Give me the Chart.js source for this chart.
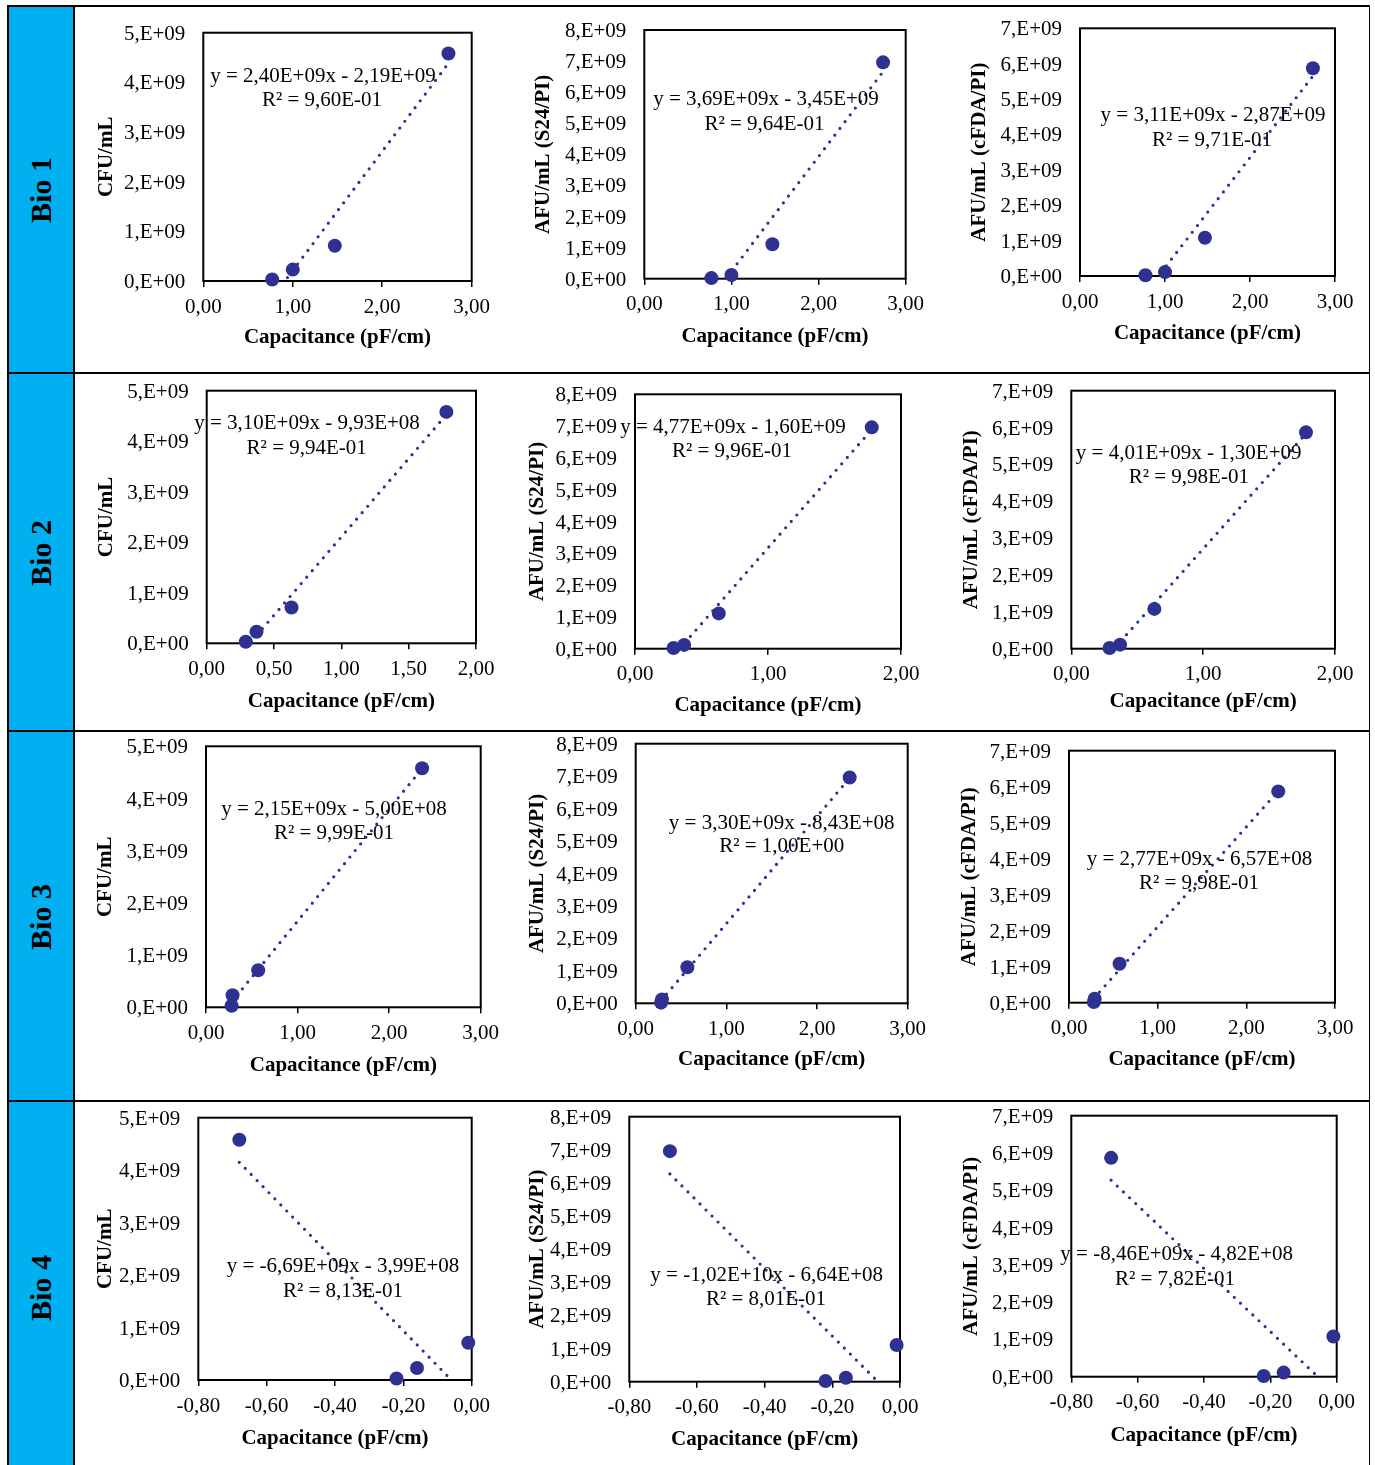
<!DOCTYPE html>
<html>
<head>
<meta charset="utf-8">
<script src="https://cdn.jsdelivr.net/npm/chart.js@4/dist/chart.umd.min.js"></script>
<style>
  html, body { margin: 0; padding: 0; background: #fff; }
  body { width: 1375px; height: 1465px; position: relative; overflow: hidden; }
  .cell-blue { position: absolute; background: #00B0F0; }
  .rule { position: absolute; background: #000; }
  .bio {
    position: absolute; font: bold 30px 'Liberation Serif', 'Times New Roman', serif;
    line-height: 1; white-space: nowrap; color: #000;
    transform: translate(-50%, -50%) rotate(-90deg);
  }
  .panel { position: absolute; }
  .panel canvas { display: block; }
</style>
</head>
<body>
<div id="sheet"></div>
<script>
// ---- data ----------------------------------------------------------------
const bioNames = ['Bio 1', 'Bio 2', 'Bio 3', 'Bio 4'];

// capacitance readings (pF/cm) for the four samples, per biomass probe
const capBio1 = [0.77, 1.00, 1.47, 2.74];
const capBio2 = [0.29, 0.37, 0.63, 1.78];
const capBio3 = [0.28, 0.29, 0.57, 2.36];
const capBio4 = [-0.22, -0.16, -0.01, -0.68];

// reference counts for the same four samples
const cfuPerMl = [0.03e9, 0.23e9, 0.71e9, 4.58e9];
const afuS24   = [0.02e9, 0.12e9, 1.11e9, 6.96e9];
const afuCfda  = [0.02e9, 0.11e9, 1.08e9, 5.87e9];

const yTitles = ['CFU/mL', 'AFU/mL (S24/PI)', 'AFU/mL (cFDA/PI)'];
const yMaxima = [5e9, 8e9, 7e9];
const xTitle = 'Capacitance (pF/cm)';

// linear fit coefficients (rows: Bio 1..4, columns: CFU, S24, cFDA)
const slopes = [
  [2.40e9, 3.69e9, 3.11e9],
  [3.10e9, 4.77e9, 4.01e9],
  [2.15e9, 3.30e9, 2.77e9],
  [-6.69e9, -1.02e10, -8.46e9]
];
const intercepts = [
  [-2.19e9, -3.45e9, -2.87e9],
  [-9.93e8, -1.60e9, -1.30e9],
  [-5.00e8, -8.43e8, -6.57e8],
  [-3.99e8, -6.64e8, -4.82e8]
];
const rSquared = [
  [0.960, 0.964, 0.971],
  [0.994, 0.996, 0.998],
  [0.999, 1.00, 0.998],
  [0.813, 0.801, 0.782]
];

// x-axis ranges per panel: [min, max, step]
const xRanges = [
  [[0, 3, 1], [0, 3, 1], [0, 3, 1]],
  [[0, 2, 0.5], [0, 2, 1], [0, 2, 1]],
  [[0, 3, 1], [0, 3, 1], [0, 3, 1]],
  [[-0.8, 0, 0.2], [-0.8, 0, 0.2], [-0.8, 0, 0.2]]
];

const capByBio = [capBio1, capBio2, capBio3, capBio4];
const countsByCol = [cfuPerMl, afuS24, afuCfda];

// ---- page layout (pixels) --------------------------------------------------
// plot box [left, top, right, bottom], y-title centre x, x-title centre y,
// equation centre [x, y], R² centre [x, y]
const frames = [
  [[203.3, 32.7, 471.7, 281.0], 107.0, 337.0, [323, 76], [322, 100]],
  [[644.3, 30.0, 905.7, 278.7], 543.3, 336.7, [766, 99], [764.5, 124]],
  [[1080.0, 28.3, 1335.0, 276.0], 980.0, 333.3, [1213, 115], [1212, 140]],
  [[206.7, 390.7, 476.0, 643.3], 106.7, 701.7, [307, 423], [306.7, 448.3]],
  [[635.0, 394.3, 901.0, 648.7], 537.3, 705.0, [733, 427], [732, 451.7]],
  [[1071.3, 390.7, 1335.0, 648.7], 971.7, 701.7, [1188.7, 453.3], [1188.8, 477.3]],
  [[206.0, 746.3, 480.7, 1007.3], 106.0, 1065.7, [334, 809], [334, 833.7]],
  [[635.7, 743.7, 907.7, 1003.3], 537.3, 1059.0, [781.7, 823], [781.7, 846.3]],
  [[1069.0, 750.7, 1335.0, 1002.7], 970.0, 1059.7, [1199.5, 859.7], [1199, 883]],
  [[198.3, 1117.7, 471.7, 1380.0], 106.0, 1438.3, [343, 1266.7], [343, 1291]],
  [[629.3, 1116.7, 900.0, 1381.7], 537.3, 1439.0, [766.7, 1275], [766, 1299]],
  [[1071.3, 1115.7, 1336.7, 1376.7], 971.7, 1435.0, [1176.7, 1254.3], [1175, 1279]]
];
const bioCentres = [190, 553, 917, 1288];

const SERIF = "'Liberation Serif', 'Times New Roman', serif";
const MARK = '#2E3192';
const sheet = document.getElementById('sheet');

// ---- table frame ----------------------------------------------------------
function box(cls, x, y, w, h) {
  const d = document.createElement('div');
  d.className = cls;
  Object.assign(d.style, { left: x + 'px', top: y + 'px', width: w + 'px', height: h + 'px' });
  sheet.appendChild(d);
  return d;
}
box('cell-blue', 8, 6, 66, 1460);
[6, 372.5, 730.5, 1101].forEach(y => box('rule', 7, y - 1, 1363, 2));
[7.5, 73.5].forEach(x => box('rule', x - 1, 5, 2, 1461));
box('rule', 1368.5, 5, 1.5, 1461);
bioNames.forEach((name, i) => {
  const t = document.createElement('div');
  t.className = 'bio';
  t.textContent = name;
  t.style.left = '41px';
  t.style.top = bioCentres[i] + 'px';
  sheet.appendChild(t);
});

// ---- number formats -------------------------------------------------------
function sci(v, digits) {
  const [m, e] = v.toExponential(digits).split('e');
  const n = parseInt(e, 10);
  const mant = digits === 0 ? m + ',' : m.replace('.', ',');
  return mant + 'E' + (n < 0 ? '-' : '+') + String(Math.abs(n)).padStart(2, '0');
}
function dec2(v) {
  const r = Math.abs(v) < 1e-9 ? 0 : v;
  return r.toFixed(2).replace('.', ',');
}

// ---- plugins --------------------------------------------------------------
const plotFrame = {
  id: 'plotFrame',
  beforeDatasetsDraw(chart) {
    const { ctx, chartArea: a } = chart;
    ctx.save();
    ctx.strokeStyle = '#000';
    ctx.lineWidth = 2;
    ctx.strokeRect(a.left, a.top, a.right - a.left, a.bottom - a.top);
    ctx.restore();
  }
};
const fitLabel = {
  id: 'fitLabel',
  afterDatasetsDraw(chart, args, opts) {
    const { ctx } = chart;
    ctx.save();
    ctx.fillStyle = '#000';
    ctx.font = '21px ' + SERIF;
    ctx.textAlign = 'center';
    ctx.textBaseline = 'middle';
    ctx.fillText(opts.equation, opts.eq[0], opts.eq[1]);
    ctx.fillText(opts.r2, opts.rr[0], opts.rr[1]);
    ctx.restore();
  }
};

// ---- panels ---------------------------------------------------------------
const TITLE_HALF = 21 * 1.2 / 2;

for (let b = 0; b < 4; b++) {
  for (let c = 0; c < 3; c++) {
    const idx = b * 3 + c;
    const [[L, T, R, B], yTitleX, xTitleY, eqPos, r2Pos] = frames[idx];
    const cl = Math.round(yTitleX - TITLE_HALF);
    const ct = Math.round(T - 22);
    const cr = Math.round(R + 24);
    const cb = Math.round(xTitleY + TITLE_HALF + 2);
    const W = cr - cl, H = cb - ct;

    const wrap = box('panel', cl, ct, W, H);
    const canvas = document.createElement('canvas');
    canvas.width = W; canvas.height = H;
    canvas.style.width = W + 'px'; canvas.style.height = H + 'px';
    wrap.appendChild(canvas);

    const xs = capByBio[b];
    const ys = countsByCol[c];
    const pts = xs.map((x, i) => ({ x, y: ys[i] }));
    const m = slopes[b][c], k = intercepts[b][c];
    const xLo = Math.min(...xs), xHi = Math.max(...xs);
    const fit = [{ x: xLo, y: m * xLo + k }, { x: xHi, y: m * xHi + k }];
    const [xMin, xMax, xStep] = xRanges[b][c];

    const yAxisW = L - cl;
    const xAxisH = cb - B - 2;

    const equation = 'y = ' + sci(m, 2) + 'x ' + (k < 0 ? '- ' : '+ ') + sci(Math.abs(k), 2);
    const r2 = 'R\u00B2 = ' + sci(rSquared[b][c], 2);

    new Chart(canvas, {
      type: 'scatter',
      data: {
        datasets: [
          {
            type: 'line', data: fit, showLine: true, pointRadius: 0,
            borderColor: MARK, borderWidth: 3.2, borderDash: [0, 8.5],
            borderCapStyle: 'round', fill: false, tension: 0
          },
          {
            data: pts, pointRadius: 7, pointHoverRadius: 7,
            backgroundColor: MARK, borderColor: MARK, borderWidth: 0, clip: false
          }
        ]
      },
      options: {
        responsive: false,
        animation: false,
        events: [],
        layout: { padding: { left: 0, top: T - ct, right: cr - R, bottom: 2 } },
        plugins: {
          legend: { display: false },
          tooltip: { enabled: false },
          fitLabel: {
            equation, r2,
            eq: [eqPos[0] - cl, eqPos[1] - ct],
            rr: [r2Pos[0] - cl, r2Pos[1] - ct]
          }
        },
        scales: {
          x: {
            type: 'linear', min: xMin, max: xMax,
            border: { display: false },
            grid: { drawOnChartArea: false, drawTicks: true, tickLength: 6, color: '#000', lineWidth: 1.5 },
            ticks: {
              stepSize: xStep, padding: 7.5, maxRotation: 0, autoSkip: false,
              color: '#000', font: { family: SERIF, size: 21 },
              callback: v => dec2(v)
            },
            title: {
              display: true, text: xTitle, color: '#000', padding: 0,
              font: { family: SERIF, size: 21, weight: 'bold', lineHeight: 1.2 }
            },
            afterFit(s) {
              s.height = xAxisH;
              s.paddingLeft = s.paddingRight = s.paddingTop = s.paddingBottom = 0;
            }
          },
          y: {
            type: 'linear', min: 0, max: yMaxima[c],
            border: { display: false },
            grid: { display: false, drawTicks: false },
            ticks: {
              stepSize: 1e9, padding: 18, autoSkip: false, labelOffset: 1.5,
              color: '#000', font: { family: SERIF, size: 21 },
              callback: v => sci(v, 0)
            },
            title: {
              display: true, text: yTitles[c], color: '#000', padding: 0,
              font: { family: SERIF, size: 21, weight: 'bold', lineHeight: 1.2 }
            },
            afterFit(s) {
              s.width = yAxisW;
              s.paddingLeft = s.paddingRight = s.paddingTop = s.paddingBottom = 0;
            }
          }
        }
      },
      plugins: [plotFrame, fitLabel]
    });
  }
}
</script>
</body>
</html>
